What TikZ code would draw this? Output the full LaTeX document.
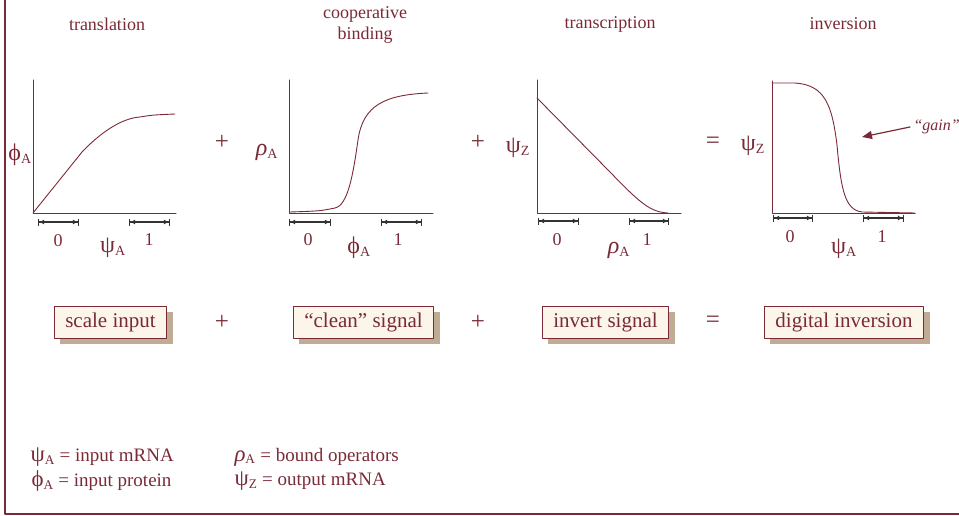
\documentclass[tikz,border=0pt]{standalone}
\usepackage{fontspec}
\setmainfont{Liberation Serif}
\usetikzlibrary{arrows.meta, shadows}

\definecolor{wine}{HTML}{7A2A36}
\definecolor{cream}{HTML}{FCF6EA}
\definecolor{boxshade}{HTML}{C0AB95}

\newcommand{\gk}[1]{\scalebox{1.2}{#1}}
\newcommand{\psiA}{\gk{ψ}\textsubscript{A}}
\newcommand{\phiA}{\gk{ϕ}\textsubscript{A}}
\newcommand{\rhoA}{\gk{\textit{ρ}}\textsubscript{A}}
\newcommand{\psiZ}{\gk{ψ}\textsubscript{Z}}

\tikzset{
  axis/.style={wine, line width=1pt},
  curve/.style={wine, line width=0.9pt},
  rangebar/.style={black!80, line width=1.1pt,
    {Bar[width=7pt]Latex[length=5pt,width=5pt]}-{Latex[length=5pt,width=5pt]Bar[width=7pt]}},
  title/.style={wine, font=\fontsize{18}{21}\selectfont, align=center},
  varlbl/.style={wine, font=\fontsize{20}{22}\selectfont},
  numlbl/.style={wine, font=\fontsize{18}{20}\selectfont},
  opsign/.style={wine, font=\fontsize{25}{27}\selectfont},
  rolebox/.style={draw=wine, line width=1pt, fill=cream, text=wine,
    font=\fontsize{21}{23}\selectfont, minimum height=32pt, inner xsep=11pt,
    drop shadow={shadow xshift=6pt, shadow yshift=-6pt, fill=boxshade, opacity=1}},
  legend/.style={wine, font=\fontsize{19}{21}\selectfont, anchor=west},
  frame/.style={wine, line width=2pt}
}

\begin{document}
\begin{tikzpicture}[x=1pt, y=-1pt, line join=round, line cap=round]
\useasboundingbox (0,0) rectangle (959,516);
\draw[frame] (5,0) -- (5,514) -- (959,514);

% translation
\coordinate (T1) at (33,80);
\coordinate (O1) at (33,213);
\coordinate (E1) at (176,213);
\draw[axis] (T1) -- (O1) -- (E1);
\draw[curve] (O1) -- (82,152) .. controls (105,128) and (125,118) .. (140,117)
  .. controls (152,115) .. (175,114);
\node[title] (t1) at (107,24) {translation};
\node[varlbl] (y1) at (20,155) {\phiA};
\coordinate (a1) at (38,222);
\coordinate (b1) at (79,222);
\coordinate (c1) at (129,222);
\coordinate (d1) at (170,222);
\draw[rangebar] (a1) -- (b1);
\draw[rangebar] (c1) -- (d1);
\node[numlbl] (zero1) at (58,241) {0};
\node[numlbl] (one1) at (149,240) {1};
\node[varlbl] (x1) at (113,248) {\psiA};

\node[opsign] (plus1) at (222,142) {+};

% cooperative binding
\coordinate (T2) at (289,80);
\coordinate (O2) at (289,213);
\coordinate (E2) at (433,213);
\draw[axis] (T2) -- (O2) -- (E2);
\draw[curve] (290,212) .. controls (320,211) .. (335,208)
  .. controls (348,205) and (353,175) .. (358,140)
  .. controls (363,105) and (385,95) .. (428,93);
\node[title] (t2) at (365,25) {cooperative\\binding};
\node[varlbl] (y2) at (267,152) {\rhoA};
\coordinate (a2) at (289,222);
\coordinate (b2) at (331,222);
\coordinate (c2) at (381,222);
\coordinate (d2) at (422,222);
\draw[rangebar] (a2) -- (b2);
\draw[rangebar] (c2) -- (d2);
\node[numlbl] (zero2) at (308,240) {0};
\node[numlbl] (one2) at (398,240) {1};
\node[varlbl] (x2) at (359,248) {\phiA};

\node[opsign] (plus2) at (478,142) {+};

% transcription
\coordinate (T3) at (537,80);
\coordinate (O3) at (537,213);
\coordinate (E3) at (681,213);
\draw[axis] (T3) -- (O3) -- (E3);
\draw[curve] (537,98) -- (610,172) .. controls (640,203) and (650,212) .. (668,213);
\node[title] (t3) at (610,24) {transcription};
\node[varlbl] (y3) at (518,148) {\psiZ};
\coordinate (a3) at (538,221);
\coordinate (b3) at (579,221);
\coordinate (c3) at (629,221);
\coordinate (d3) at (669,221);
\draw[rangebar] (a3) -- (b3);
\draw[rangebar] (c3) -- (d3);
\node[numlbl] (zero3) at (557,240) {0};
\node[numlbl] (one3) at (647,240) {1};
\node[varlbl] (x3) at (619,250) {\rhoA};

\node[opsign] (equal1) at (713,143) {=};

% inversion
\coordinate (T4) at (772,81);
\coordinate (O4) at (772,213);
\coordinate (E4) at (915,213);
\draw[axis] (T4) -- (O4) -- (E4);
\draw[curve] (772,83) -- (795,83) .. controls (825,85) and (832,105) .. (837,145)
  .. controls (841,190) and (845,210) .. (862,212) -- (915,213);
\node[title] (t4) at (843,24) {inversion};
\node[varlbl] (y4) at (753,146) {\psiZ};
\coordinate (a4) at (773,218);
\coordinate (b4) at (813,218);
\coordinate (c4) at (863,218);
\coordinate (d4) at (904,218);
\draw[rangebar] (a4) -- (b4);
\draw[rangebar] (c4) -- (d4);
\node[numlbl] (zero4) at (790,237) {0};
\node[numlbl] (one4) at (882,237) {1};
\node[varlbl] (x4) at (844,249) {\psiA};
\node[wine, font=\fontsize{16}{18}\selectfont\itshape, anchor=west] (gain) at (910,127) {“gain”};
\coordinate (gaintip) at (862,137);
\draw[wine, line width=1.2pt, -{Triangle[length=10pt,width=8pt]}] (gain.west) -- (gaintip);

% roles
\node[rolebox] (scale) at (110.5,322) {scale input};
\node[opsign] (plus3) at (222,322) {+};
\node[rolebox] (clean) at (363.5,322) {“clean” signal};
\node[opsign] (plus4) at (478,322) {+};
\node[rolebox] (invert) at (605.5,322) {invert signal};
\node[opsign] (equal2) at (713,322) {=};
\node[rolebox] (digital) at (844,322) {digital inversion};

% legend
\node[legend] (leg1) at (27,457) {\psiA\ = input mRNA};
\node[legend] (leg2) at (28,481) {\phiA\ = input protein};
\node[legend] (leg3) at (231,457) {\rhoA\ = bound operators};
\node[legend] (leg4) at (231,481) {\psiZ\ = output mRNA};
\end{tikzpicture}
\end{document}
